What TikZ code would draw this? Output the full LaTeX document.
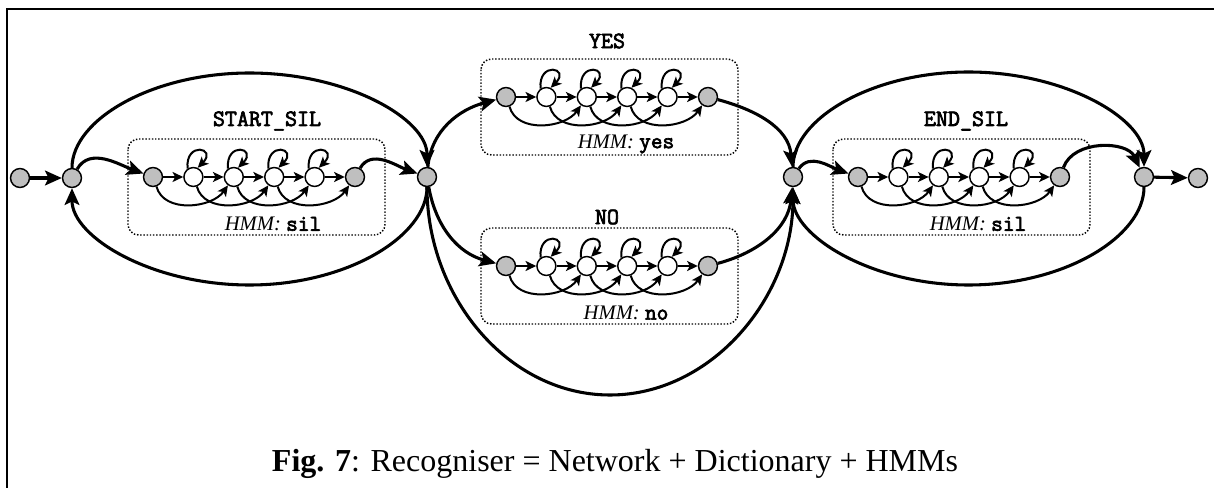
\documentclass[tikz,border=0pt]{standalone}
\usepackage{fontspec}
\setmainfont{Liberation Serif}
\setmonofont{Latin Modern Mono}[AutoFakeBold=3]
\usetikzlibrary{arrows.meta,calc}

\tikzset{
  st/.style={circle,draw,line width=1.1pt,minimum size=14.2pt,inner sep=0pt},
  gst/.style={st,fill=black!25},
  wst/.style={st,fill=white},
  hmmedge/.style={line width=1.5pt,-{Stealth[length=8pt,width=7.5pt,inset=2pt]}},
  netedge/.style={line width=2.3pt,-{Stealth[length=12.5pt,width=11pt,inset=2.5pt]}},
  hbox/.style={draw,line width=1.1pt,dash pattern=on 1.1pt off 1.3pt,rounded corners=8pt},
  lbl/.style={font=\ttfamily\bfseries\fontsize{17.5}{17.5}\selectfont},
  hlbl/.style={font=\fontsize{15.5}{16}\selectfont},
  caplbl/.style={font=\fontsize{24}{26}\selectfont,anchor=base},
  frameline/.style={line width=1.5pt}
}

\newcommand\hmmunit[4]{%
  \node[gst] (#1-0) at (#2,#3) {};
  \node[wst] (#1-1) at (#2+40.4,#3) {};
  \node[wst] (#1-2) at (#2+80.8,#3) {};
  \node[wst] (#1-3) at (#2+121.2,#3) {};
  \node[wst] (#1-4) at (#2+161.6,#3) {};
  \node[gst] (#1-5) at (#2+202,#3) {};
  \draw[hbox] (#2-25,#3-38) rectangle (#2+232,#3+58);
  \node[hlbl] (#1-lbl) at (#2+120,#3+47) {\textit{HMM:} {\ttfamily\bfseries\fontsize{17}{16}\selectfont #4}};
  \foreach \a/\b in {0/1,1/2,2/3,3/4,4/5} {\draw[hmmedge] (#1-\a) -- (#1-\b);}
  \foreach \a in {1,2,3,4} {\draw[hmmedge] (#1-\a.125) .. controls +(95:21pt) and +(45:21pt) .. (#1-\a.65);}
  \foreach \a/\b in {0/2,1/3,2/4,3/5} {\draw[hmmedge] (#1-\a.-70) to[out=-75,in=-125] (#1-\b.-125);}
}

\begin{document}
\begin{tikzpicture}[x=0.75pt,y=-0.75pt]
\useasboundingbox (0,0) rectangle (1214,488);
\draw[frameline] (7,488) -- (7,9) -- (1214,9);

% network nodes
\node[gst] (s0) at (20,178) {};
\node[gst] (s1) at (72,178) {};
\node[gst] (n2) at (427,177) {};
\node[gst] (n3) at (793,177) {};
\node[gst] (n4) at (1144,177) {};
\node[gst] (s9) at (1198,178) {};

% HMM units
\hmmunit{ss}{153}{177}{sil}
\hmmunit{yes}{506}{97}{yes}
\hmmunit{no}{506}{266}{no}
\hmmunit{es}{858}{177}{sil}

% titles
\node[lbl] (tss) at (267,121) {START\_SIL};
\node[lbl] (tyes) at (607,41) {YES};
\node[lbl] (tno) at (607,217) {NO};
\node[lbl] (tes) at (966,121) {END\_SIL};

% helper coordinates
\coordinate (sstop) at (249.5,73);
\coordinate (ssbot) at (249.5,285);
\coordinate (nobot) at (610,395);
\coordinate (estop) at (968.5,72);
\coordinate (esbot) at (968.5,285);

% connectors
\draw[netedge] (s0) -- (s1);
\draw[netedge] (n4) -- (s9);
\draw[netedge] (s1) to[out=60,in=160] (ss-0);
\draw[netedge] (ss-5) to[out=60,in=160] (n2);
\draw[netedge] (s1) .. controls +(0,-58) and +(-98,0) .. (sstop) .. controls +(98,0) and +(0,-58) .. (n2);
\draw[netedge] (n2) .. controls +(0,59) and +(98,0) .. (ssbot) .. controls +(-98,0) and +(0,59) .. (s1);

\draw[netedge] (n2) to[out=85,in=195] (yes-0);
\draw[netedge] (yes-5) to[out=-15,in=95] (n3);
\draw[netedge] (n2) to[out=-80,in=165] (no-0);
\draw[netedge] (no-5) to[out=15,in=-95] (n3);
\draw[netedge] (n2) .. controls +(0,121) and +(-101,0) .. (nobot) .. controls +(101,0) and +(0,121) .. (n3);

\draw[netedge] (n3) to[out=55,in=160] (es-0);
\draw[netedge] (es-5) to[out=70,in=115] (n4);
\draw[netedge] (n3) .. controls +(0,-58) and +(-97,0) .. (estop) .. controls +(97,0) and +(0,-58) .. (n4);
\draw[netedge] (n4) .. controls +(0,59) and +(97,0) .. (esbot) .. controls +(-97,0) and +(0,59) .. (n3);

% caption
\node[caplbl] (cap) at (615,471) {\textbf{Fig. 7}: Recogniser = Network + Dictionary + HMMs};
\end{tikzpicture}
\end{document}
